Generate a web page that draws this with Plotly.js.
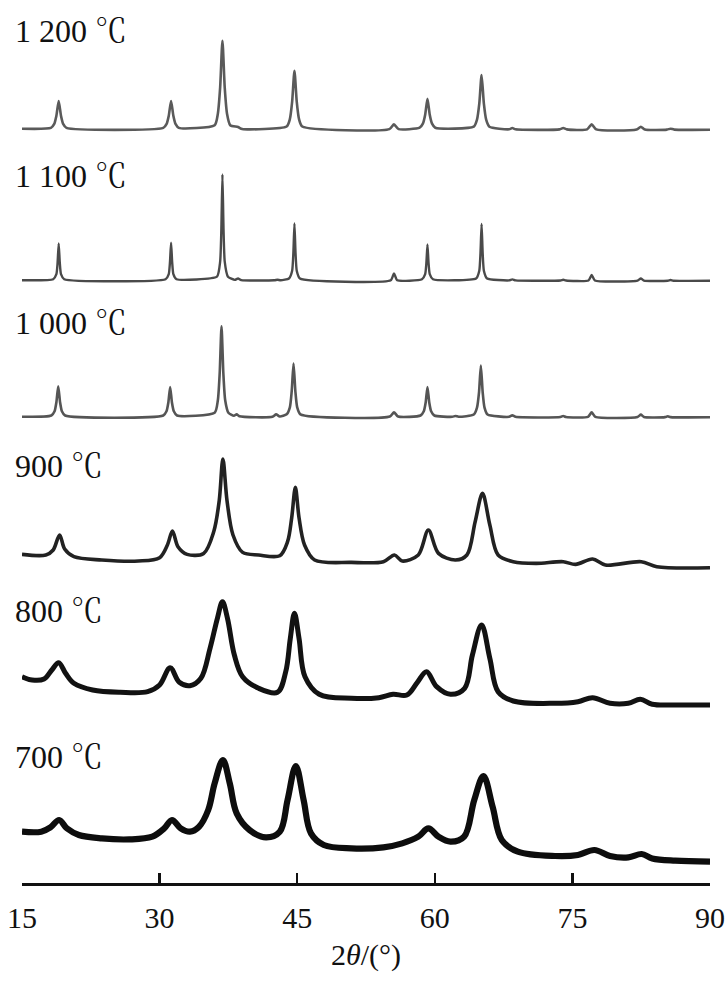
<!DOCTYPE html>
<html>
<head>
<meta charset="utf-8">
<script src="https://cdn.plot.ly/plotly-3.0.1.min.js"></script>
<style>html,body{margin:0;padding:0;background:#fff;}#chart{width:726px;height:984px;}</style>
</head>
<body>
<div id="chart"></div>
<script>
// Sample labels (calcination temperature)
const labels = ["1 200", "1 100", "1 000", "900", "800", "700"];
const unit = "℃";

// 2θ (°) and intensity (a.u.), one pair per pattern
const x1200 = [15, 18.15, 18.5, 18.75, 19.0, 19.25, 19.5, 19.85,
  30.4, 30.75, 31.0, 31.25, 31.5, 31.75, 32.1,
  36.0, 36.35, 36.6, 36.85, 37.1, 37.35, 37.7, 38.55, 39.0,
  43.85, 44.2, 44.45, 44.7, 44.95, 45.2, 45.55,
  55.05, 55.55, 56.05, 58.35, 58.7, 58.95, 59.2, 59.45, 59.7, 60.05,
  64.25, 64.6, 64.85, 65.1, 65.35, 65.6, 65.95,
  68.1, 68.45, 68.8, 73.6, 74.0, 74.4, 76.6, 77.1, 77.6, 82.0, 82.46, 82.9, 85.3, 85.7, 86.1, 90];
const y1200 = [1, 1.8, 5.5, 14, 28.7, 14, 5.5, 1.8,
  1.8, 5.5, 14, 28.7, 14, 5.5, 1.8,
  4.5, 16, 42, 89, 42, 16, 4.5, 2.7, 0.7,
  3.2, 10.5, 28, 59, 28, 10.5, 3.2,
  0.6, 5.3, 0.6, 2, 6, 15, 31, 15, 6, 2,
  3, 10, 26, 54.7, 26, 10, 3,
  0.4, 1.7, 0.4, 0.3, 1.7, 0.3, 0.3, 5.3, 0.3, 0.2, 3, 0.2, 0.1, 1, 0.1, 0];

const x1100 = [15, 18.4, 18.75, 18.88, 19.0, 19.12, 19.25, 19.6,
  30.65, 31.0, 31.13, 31.25, 31.37, 31.5, 31.85,
  36.25, 36.6, 36.73, 36.85, 36.97, 37.1, 37.45, 38.2, 38.55, 38.9,
  42.5, 42.85, 43.2, 44.1, 44.45, 44.58, 44.7, 44.82, 44.95, 45.3,
  55.2, 55.55, 55.9, 58.6, 58.95, 59.08, 59.2, 59.32, 59.45, 59.8,
  64.5, 64.85, 64.98, 65.1, 65.22, 65.35, 65.7,
  68.1, 68.45, 68.8, 73.7, 74.0, 74.3, 76.75, 77.1, 77.45, 82.1, 82.46, 82.8, 85.4, 85.7, 86.0, 90];
const y1100 = [0.5, 1.5, 6.5, 18, 37.3, 18, 6.5, 1.5,
  1.5, 6.6, 18.5, 38, 18.5, 6.6, 1.5,
  4, 19, 51, 106.3, 51, 19, 4, 0.8, 2.3, 0.6,
  0.4, 1, 0.4, 2.2, 10, 27.5, 57.3, 27.5, 10, 2.2,
  0.4, 7.3, 0.4, 1.4, 6.5, 17.5, 36.3, 17.5, 6.5, 1.4,
  2.2, 10, 27.5, 56.7, 27.5, 10, 2.2,
  0.3, 1.3, 0.3, 0.2, 1, 0.2, 0.2, 5.7, 0.2, 0.1, 2.3, 0.1, 0, 0.7, 0, 0];

const x1000 = [15, 18.2, 18.55, 18.75, 18.95, 19.15, 19.35, 19.7,
  30.4, 30.75, 30.95, 31.15, 31.35, 31.55, 31.9,
  36.0, 36.35, 36.55, 36.75, 36.95, 37.15, 37.5, 38.1, 38.4, 38.7,
  42.3, 42.7, 43.1, 43.85, 44.2, 44.4, 44.6, 44.8, 45.0, 45.35,
  55.1, 55.55, 56.0, 58.45, 58.8, 59.0, 59.2, 59.4, 59.6, 59.95,
  61.9, 62.25, 62.6, 64.25, 64.6, 64.82, 65.02, 65.22, 65.42, 65.75,
  68.1, 68.45, 68.8, 73.7, 74.0, 74.3, 76.7, 77.1, 77.5, 82.1, 82.46, 82.8, 85.1, 85.4, 85.7, 90];
const y1000 = [0.5, 1.8, 6, 15, 31, 15, 6, 1.8,
  1.8, 6, 14.5, 30.3, 14.5, 6, 1.8,
  4.5, 17, 44, 91, 44, 17, 4.5, 1.5, 3, 1,
  0.5, 3, 0.8, 3, 10, 26, 53.7, 26, 10, 3,
  0.8, 5, 0.8, 1.8, 6, 14.5, 30.3, 14.5, 6, 1.8,
  0.5, 1.3, 0.5, 2.8, 9.7, 25, 51.7, 25, 9.7, 2.8,
  0.5, 2, 0.5, 0.3, 1.3, 0.3, 0.5, 5, 0.5, 0.3, 2.7, 0.3, 0.2, 1, 0.2, 0];

const x900 = [15.0, 17.6, 18.4, 19.1, 19.65, 20.66, 23.7, 27.7, 30.0, 30.85, 31.4, 32.0, 33.0, 34.8,
  35.9, 36.5, 36.9, 37.35, 38.0, 39.05, 40.8, 43.1, 43.95, 44.4, 44.8, 45.2, 45.8, 46.9,
  50.9, 54.4, 55.6, 56.45, 58.2, 59.3, 60.4, 62.25, 63.5, 64.4, 65.2, 66.0, 66.9, 68.55,
  71.05, 74.0, 75.35, 77.2, 78.6, 82.5, 84.2, 90];
const y900 = [13.3, 12.7, 17.7, 32.7, 18.7, 11, 7.7, 6.7, 10, 22.7, 36.7, 21, 13.3, 14.3,
  36, 67, 108.7, 67, 32.7, 15.3, 12.7, 12, 26, 50, 80.3, 50, 22.7, 7.7,
  5.3, 6, 12.7, 6.7, 12.7, 37.7, 14.3, 7.7, 12.7, 46, 74.3, 42.7, 12.7, 6,
  4.3, 6, 3.3, 8.7, 2.7, 6, 1, 0];

const x800 = [15.0, 16.1, 17.4, 18.25, 19.0, 19.75, 20.66, 22.7, 25.7, 28.7, 30.0, 31.15, 32.15,
  33.3, 34.5, 35.5, 36.3, 36.85, 37.4, 38.15, 39.05, 40.8, 42.85, 43.75, 44.25, 44.7, 45.2,
  45.85, 47.4, 50.9, 53.9, 55.45, 56.95, 58.1, 59.1, 60.2, 61.7, 63.25, 64.1, 65.1, 66.0,
  66.9, 68.55, 73.1, 75.6, 77.2, 79.1, 81.1, 82.4, 83.7, 86.2, 90];
const y800 = [28.3, 25, 26, 35, 42.3, 31.7, 21.7, 15, 12.7, 13.3, 20, 37.3, 22.7,
  19.3, 26.7, 56.7, 86.7, 103.3, 86.7, 50, 28.3, 16.7, 12.7, 33.3, 66.7, 91.7, 66.7,
  28.3, 10.7, 6.7, 7.3, 10.7, 10, 22.7, 33.3, 18.3, 10.7, 16.7, 50, 80, 46.7,
  13.3, 4, 1.7, 3.3, 7.3, 1.7, 1.7, 5.7, 0.7, 0, 0];

const x700 = [15.0, 17.1, 18.1, 19.05, 19.9, 21.2, 23.7, 26.7, 29.2, 30.5, 31.35, 32.3, 33.3,
  34.3, 35.3, 36.0, 36.9, 37.65, 38.4, 39.8, 41.6, 43.1, 43.95, 44.85, 45.7, 46.5, 47.9,
  50.9, 54.4, 56.45, 58.2, 59.3, 60.4, 61.7, 63.2, 64.3, 65.3, 66.3, 67.3, 69.05, 73.1,
  75.6, 77.4, 79.1, 81.1, 82.55, 83.7, 86.2, 90];
const y700 = [30, 30, 34.3, 41.7, 33.3, 26.7, 23.3, 22.3, 25, 33.3, 41.7, 33.3, 30,
  35, 51.7, 78.3, 101.7, 78.3, 48.3, 31.7, 24.3, 30, 61.7, 95.7, 61.7, 28.3, 16.7,
  13.3, 14.3, 18.3, 25, 33.3, 25, 20, 25, 61.7, 85.7, 55, 21.7, 10, 5.7,
  6.7, 11.7, 5.7, 4.3, 7.7, 3.3, 1, 0];

const xTicks = [15, 30, 45, 60, 75, 90];

// ---- presentation (stacking offsets and styles) ----
const series = [[x1200, y1200], [x1100, y1100], [x1000, y1000], [x900, y900], [x800, y800], [x700, y700]];
const offsets = [753.3, 602.3, 465.7, 315.3, 178, 21.3];
const labelY = [855, 710, 563, 420, 275, 129];
const colors = ['#5a5a5a', '#4a4a4a', '#555555', '#222222', '#121212', '#0d0d0d'];
const widths = [2.6, 2.4, 2.6, 3.6, 5, 6.2];
const smooth = [0.6, 0.5, 0.6, 0.9, 1, 1];

const serif = 'Liberation Serif';
const traces = series.map((s, i) => ({
  type: 'scatter', mode: 'lines',
  x: s[0], y: s[1].map(v => v + offsets[i]),
  line: {color: colors[i], width: widths[i], shape: 'spline', smoothing: smooth[i]},
  hoverinfo: 'skip', showlegend: false
}));

const annotations = labels.map((t, i) => ({
  text: t + ' <span style="font-family:Noto Serif CJK SC">' + unit + '</span>',
  xref: 'paper', yref: 'y', x: -0.0125, y: labelY[i],
  xanchor: 'left', yanchor: 'middle', showarrow: false,
  font: {family: serif, size: 32, color: '#111'}
}));

const layout = {
  width: 726, height: 984,
  margin: {l: 22, r: 16, t: 0, b: 101},
  paper_bgcolor: '#fff', plot_bgcolor: '#fff',
  showlegend: false,
  xaxis: {
    range: [15, 90], tickmode: 'array', tickvals: xTicks, ticktext: xTicks.map(String),
    ticks: 'inside', ticklen: 10, tickwidth: 2.5, tickcolor: '#111',
    showline: true, linewidth: 2.5, linecolor: '#111', mirror: false,
    showgrid: false, zeroline: false,
    tickfont: {family: serif, size: 30, color: '#111'},
    ticklabelstandoff: 6,
    title: {text: '2<i>θ</i>/(°)', font: {family: serif, size: 30, color: '#111'}, standoff: 12}
  },
  yaxis: {visible: false, range: [0, 883], fixedrange: true},
  annotations: annotations
};

Plotly.newPlot('chart', traces, layout, {staticPlot: true, displayModeBar: false});
</script>
</body>
</html>
